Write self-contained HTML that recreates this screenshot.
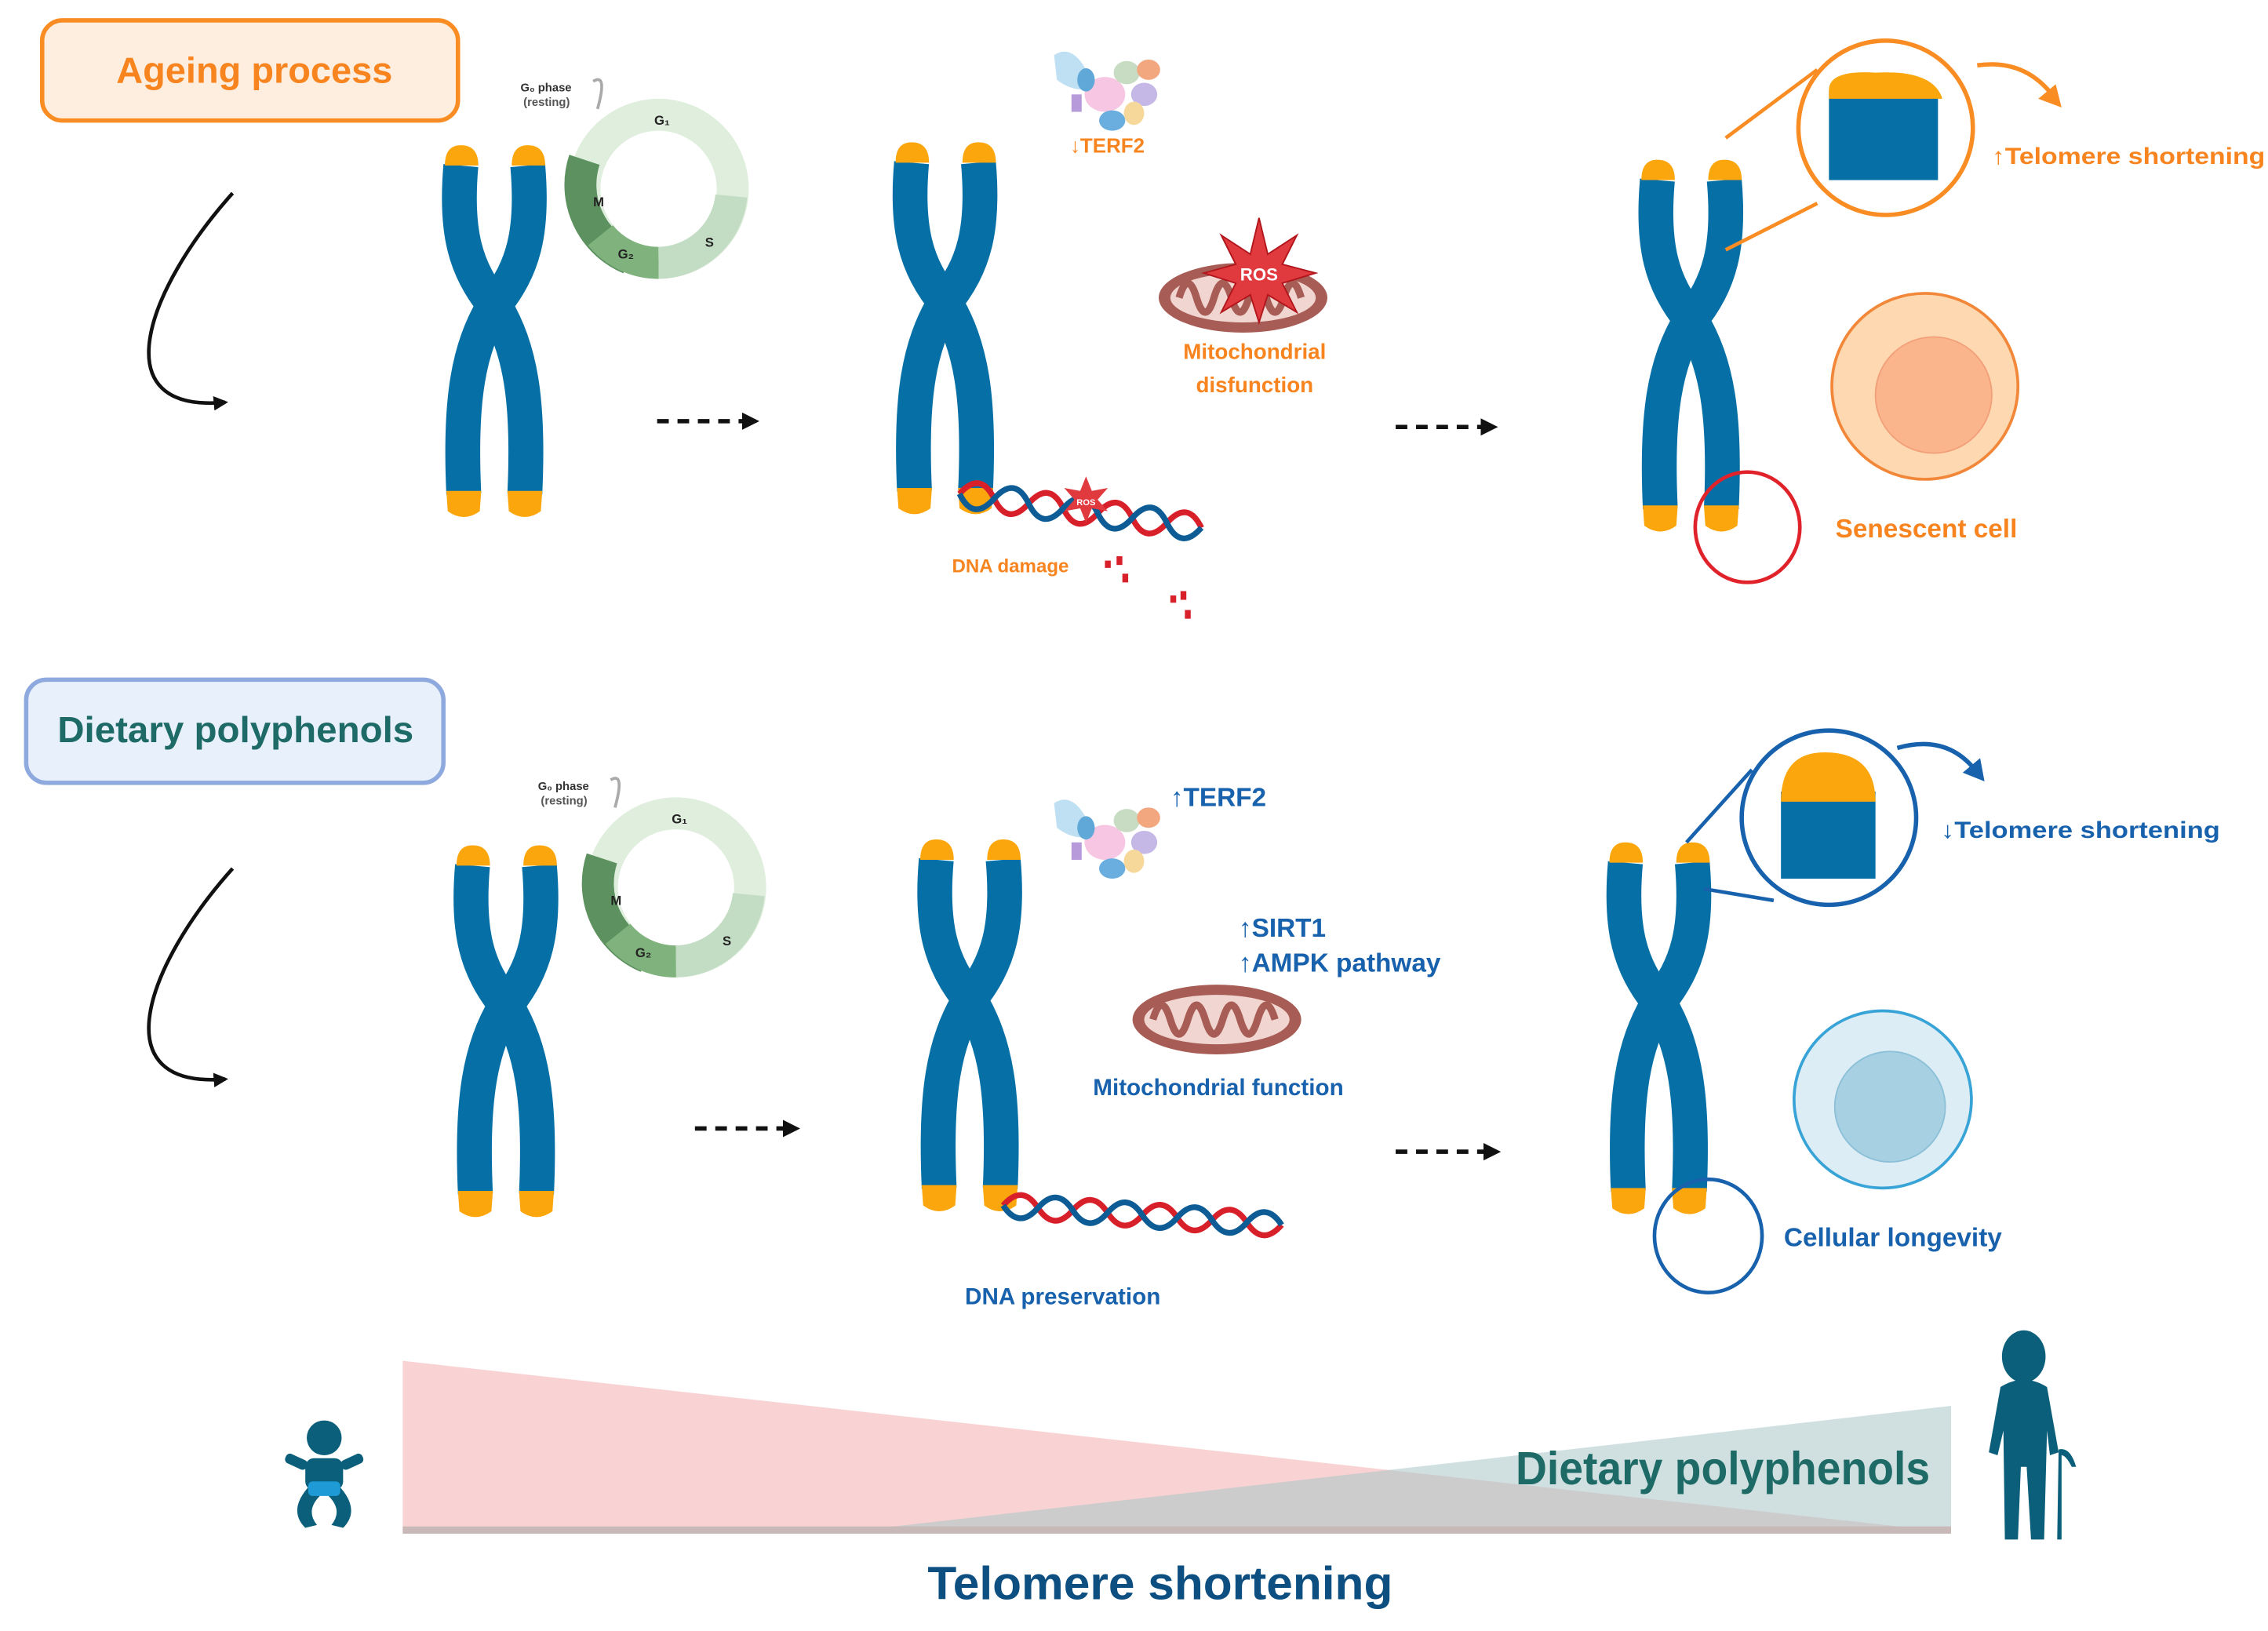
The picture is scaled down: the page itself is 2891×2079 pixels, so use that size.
<!DOCTYPE html>
<html><head><meta charset="utf-8"><style>html,body{margin:0;padding:0;background:#fff}svg{display:block}text{font-family:"Liberation Sans",sans-serif;font-weight:bold}</style></head><body>
<svg width="2891" height="2079" viewBox="0 0 1560 1123" preserveAspectRatio="none" xmlns="http://www.w3.org/2000/svg">
<defs>
<marker id="ah" viewBox="0 0 10 10" refX="8" refY="5" markerWidth="4" markerHeight="4" orient="auto"><path d="M0,0L10,5L0,10z" fill="#111"/></marker>
<g id="chr">
<path d="M17,14 C13,60 20,85 40,110 C22,140 16,175 19,240" fill="none" stroke="#0670a6" stroke-width="24"/>
<path d="M63,14 C67,60 60,85 40,110 C58,140 64,175 61,240" fill="none" stroke="#0670a6" stroke-width="24"/>
<path d="M6,14 Q6,0 17,0 Q29,0 29,14z M52,14 Q52,0 63,0 Q75,0 75,14z" fill="#fba60c"/>
<path d="M7,238 L31,238 L30,252 Q19,260 8,252z M49,238 L73,238 L72,252 Q61,260 50,252z" fill="#fba60c"/>
</g>
<g id="cyc">
<circle r="51" fill="none" stroke="#dfeedd" stroke-width="22"/>
<path d="M-51,-20 A55,55 0 0 0 -20,48" fill="none" stroke="#5d9160" stroke-width="22"/>
<path d="M-40,32 A51,51 0 0 0 0,51" fill="none" stroke="#7fb27c" stroke-width="22"/>
<path d="M0,51 A51,51 0 0 0 50,5" fill="none" stroke="#c3dcc4" stroke-width="22"/>
<text x="-3" y="-44" font-size="9" fill="#222">G₁</text>
<text x="-45" y="12" font-size="9" fill="#222">M</text>
<text x="-28" y="48" font-size="9" fill="#222">G₂</text>
<text x="32" y="40" font-size="9" fill="#222">S</text>
<text x="-95" y="-67" font-size="8" fill="#333">G₀ phase</text>
<text x="-93" y="-57" font-size="8" fill="#555" font-weight="normal">(resting)</text>
<path d="M-45,-74 Q-35,-80 -42,-55" fill="none" stroke="#aaa" stroke-width="2"/>
</g>
<g id="prot">
<path d="M-40,-22 Q-28,-30 -18,-12 L-10,0 Q-25,5 -38,-5z" fill="#bfe0f3"/>
<ellipse cx="-5" cy="5" rx="14" ry="12" fill="#f6c6e2"/>
<ellipse cx="10" cy="-10" rx="9" ry="8" fill="#c8dcc4"/>
<ellipse cx="25" cy="-12" rx="8" ry="7" fill="#f3a77f"/>
<ellipse cx="22" cy="5" rx="9" ry="8" fill="#c5b8e6"/>
<ellipse cx="15" cy="18" rx="7" ry="8" fill="#f6d99a"/>
<ellipse cx="0" cy="23" rx="9" ry="7" fill="#6aaee0"/>
<rect x="-28" y="5" width="7" height="12" fill="#b69ad9"/>
<ellipse cx="-18" cy="-5" rx="6" ry="8" fill="#5fa8d8"/>
</g>
<g id="mito">
<ellipse rx="58" ry="24" fill="#a75d55"/>
<ellipse rx="50" ry="17" fill="#f1d5d0"/>
<path d="M-44,0 q6,-20 12,0 q6,20 12,0 q6,-20 12,0 q6,20 12,0 q6,-20 12,0 q6,20 12,0 q6,-20 12,0" fill="none" stroke="#a75d55" stroke-width="5"/>
</g>
</defs>

<!-- Top box -->
<rect x="29" y="14" width="286" height="69" rx="14" fill="#feeedf" stroke="#f98d24" stroke-width="3"/>
<text x="175" y="57" font-size="25" fill="#f7841e" text-anchor="middle" textLength="190" lengthAdjust="spacingAndGlyphs">Ageing process</text>
<!-- curved arrows -->
<path d="M160,133 C100,200 70,285 155,277" fill="none" stroke="#111" stroke-width="2.5" marker-end="url(#ah)"/>
<path d="M160,598 C100,665 70,750 155,743" fill="none" stroke="#111" stroke-width="2.5" marker-end="url(#ah)"/>

<use href="#chr" x="300" y="100"/>
<use href="#cyc" transform="translate(453,130)"/>
<path d="M452,290 L520,290" stroke="#111" stroke-width="3" stroke-dasharray="8,6" marker-end="url(#ah)"/>

<use href="#chr" x="610" y="98"/>
<use href="#prot" transform="translate(765,60)"/>
<text x="736" y="105" font-size="14" fill="#f7841e">↓TERF2</text>
<use href="#mito" transform="translate(855,205)"/>
<polygon points="866,150 872,175 892,162 882,182 905,188 882,195 892,215 872,203 866,222 860,203 840,215 850,195 828,188 850,182 840,162 860,175" fill="#e0393e" stroke="#b0151b"/>
<text x="866" y="193" font-size="12" fill="#fff" text-anchor="middle">ROS</text>
<text x="863" y="247" font-size="15" fill="#f7841e" text-anchor="middle">Mitochondrial</text>
<text x="863" y="270" font-size="15" fill="#f7841e" text-anchor="middle">disfunction</text>
<path d="M660,340 q12,-18 24,0 t24,0 t24,0 t24,0 t24,0 t24,0 t24,0" fill="none" stroke="#d8202a" stroke-width="4" transform="rotate(8 660 340)"/>
<path d="M660,340 q12,18 24,0 t24,0 t24,0 t24,0 t24,0 t24,0 t24,0" fill="none" stroke="#0d5c95" stroke-width="4" transform="rotate(8 660 340)"/>
<polygon points="747,328 751,338 762,336 755,344 762,352 751,350 747,360 743,350 732,352 739,344 732,336 743,338" fill="#e0393e"/>
<text x="747" y="348" font-size="6" fill="#fff" text-anchor="middle">ROS</text>
<text x="695" y="394" font-size="13" fill="#f7841e" text-anchor="middle">DNA damage</text>
<g fill="#d8202a"><rect x="760" y="386" width="4" height="5"/><rect x="768" y="383" width="4" height="6"/><rect x="772" y="395" width="4" height="6"/><rect x="805" y="410" width="4" height="5"/><rect x="812" y="407" width="4" height="6"/><rect x="815" y="420" width="4" height="6"/></g>
<path d="M960,294 L1028,294" stroke="#111" stroke-width="3" stroke-dasharray="8,6" marker-end="url(#ah)"/>

<use href="#chr" x="1123" y="110"/>
<path d="M1187,95 L1250,48 M1187,172 L1250,140" stroke="#f98d24" stroke-width="2.5"/>
<circle cx="1297" cy="88" r="60" fill="#fff" stroke="#f98d24" stroke-width="3"/>
<rect x="1258" y="62" width="75" height="62" fill="#0670a6"/>
<path d="M1258,62 Q1258,48 1290,50 Q1330,48 1336,68 L1258,68z" fill="#fba60c"/>
<path d="M1360,45 Q1395,40 1415,70" fill="none" stroke="#f98d24" stroke-width="3"/>
<polygon points="1418,74 1402,68 1414,58" fill="#f98d24"/>
<text x="1370" y="113" font-size="16" fill="#f7841e" textLength="188" lengthAdjust="spacingAndGlyphs">↑Telomere shortening</text>
<circle cx="1324" cy="266" r="64" fill="#fdd8b0" stroke="#f2873a" stroke-width="2"/>
<circle cx="1330" cy="272" r="40" fill="#fbb58d" stroke="#f2a079" stroke-width="1"/>
<ellipse cx="1202" cy="363" rx="36" ry="38" fill="none" stroke="#e0232b" stroke-width="2.5"/>
<text x="1325" y="370" font-size="18" fill="#f7841e" text-anchor="middle">Senescent cell</text>

<!-- Bottom row -->
<rect x="18" y="468" width="287" height="71" rx="14" fill="#e8f0fb" stroke="#8ea9dd" stroke-width="3"/>
<text x="162" y="511" font-size="25" fill="#1d6a66" text-anchor="middle" textLength="245" lengthAdjust="spacingAndGlyphs">Dietary polyphenols</text>
<use href="#chr" x="308" y="582"/>
<use href="#cyc" transform="translate(465,611)"/>
<path d="M478,777 L548,777" stroke="#111" stroke-width="3" stroke-dasharray="8,6" marker-end="url(#ah)"/>
<use href="#chr" x="627" y="578"/>
<use href="#prot" transform="translate(765,575)"/>
<text x="805" y="555" font-size="18" fill="#1761ad">↑TERF2</text>
<text x="852" y="645" font-size="18" fill="#1761ad">↑SIRT1</text>
<text x="852" y="669" font-size="18" fill="#1761ad">↑AMPK pathway</text>
<use href="#mito" transform="translate(837,702)"/>
<text x="838" y="754" font-size="16" fill="#1761ad" text-anchor="middle">Mitochondrial function</text>
<path d="M690,830 q12,-16 24,0 t24,0 t24,0 t24,0 t24,0 t24,0 t24,0 t24,0" fill="none" stroke="#d8202a" stroke-width="4" transform="rotate(4 690 830)"/>
<path d="M690,830 q12,16 24,0 t24,0 t24,0 t24,0 t24,0 t24,0 t24,0 t24,0" fill="none" stroke="#0d5c95" stroke-width="4" transform="rotate(4 690 830)"/>
<text x="731" y="898" font-size="16" fill="#1761ad" text-anchor="middle">DNA preservation</text>
<path d="M960,793 L1030,793" stroke="#111" stroke-width="3" stroke-dasharray="8,6" marker-end="url(#ah)"/>
<use href="#chr" x="1101" y="580"/>
<path d="M1160,580 L1205,530 M1172,612 L1220,620" stroke="#1761ad" stroke-width="2.5"/>
<circle cx="1258" cy="563" r="60" fill="#fff" stroke="#1761ad" stroke-width="3"/>
<rect x="1225" y="545" width="65" height="60" fill="#0670a6"/>
<path d="M1225,552 Q1225,518 1255,518 Q1290,518 1290,552z" fill="#fba60c"/>
<path d="M1305,515 Q1340,505 1360,532" fill="none" stroke="#1761ad" stroke-width="3"/>
<polygon points="1365,538 1350,532 1362,522" fill="#1761ad"/>
<text x="1335" y="577" font-size="16" fill="#1761ad" textLength="192" lengthAdjust="spacingAndGlyphs">↓Telomere shortening</text>
<circle cx="1295" cy="757" r="61" fill="#dcedf5" stroke="#38a3d6" stroke-width="2"/>
<circle cx="1300" cy="762" r="38" fill="#a7d1e3" stroke="#8cc0d8"/>
<ellipse cx="1175" cy="851" rx="37" ry="39" fill="none" stroke="#1761ad" stroke-width="2.5"/>
<text x="1302" y="858" font-size="18" fill="#1761ad" text-anchor="middle">Cellular longevity</text>

<!-- Bottom gradient triangles -->
<polygon points="277,937 277,1055 1342,1055" fill="#f7c4c4" opacity="0.75"/>
<polygon points="580,1055 1342,968 1342,1055" fill="#a9c6c8" opacity="0.55"/>
<rect x="277" y="1051" width="1065" height="5" fill="#c8b8b8"/>
<text x="1185" y="1022" font-size="32" fill="#1d6a66" text-anchor="middle" textLength="285" lengthAdjust="spacingAndGlyphs">Dietary polyphenols</text>
<text x="798" y="1101" font-size="32" fill="#0d4f80" text-anchor="middle" textLength="320" lengthAdjust="spacingAndGlyphs">Telomere shortening</text>
<!-- baby -->
<g fill="#0b5f7a">
<circle cx="223" cy="990" r="12"/>
<rect x="210" y="1004" width="26" height="22" rx="6"/>
<rect x="196" y="1003" width="16" height="7" rx="3" transform="rotate(25 204 1006)"/>
<rect x="234" y="1003" width="16" height="7" rx="3" transform="rotate(-25 242 1006)"/>
<path d="M212,1024 Q198,1040 210,1052 L218,1050 Q210,1040 220,1030z M234,1024 Q248,1040 236,1052 L228,1050 Q236,1040 226,1030z"/>
</g>
<rect x="212" y="1020" width="22" height="10" rx="3" fill="#1e9ad6"/>
<!-- old man -->
<g fill="#0b5f7a">
<ellipse cx="1392" cy="934" rx="15" ry="18"/>
<path d="M1376,955 Q1392,945 1408,955 L1416,1000 L1410,1002 L1408,985 L1406,1060 L1397,1060 L1394,1010 L1390,1010 L1388,1060 L1379,1060 L1378,985 L1374,1002 L1368,1000z"/>
<path d="M1416,998 Q1424,996 1428,1010 L1425,1010 Q1421,1002 1418,1002 L1418,1060 L1415,1060z"/>
</g>
</svg>
</body></html>
